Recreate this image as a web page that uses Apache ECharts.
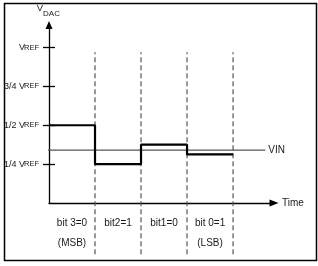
<!DOCTYPE html>
<html><head><meta charset="utf-8">
<script src="https://cdn.jsdelivr.net/npm/echarts@6/dist/echarts.min.js"></script>
<style>html,body{margin:0;padding:0;background:#fff}#c{width:318px;height:266px}</style>
</head><body><div id="c"></div>
<script>
// ---- data ----
const bitLabels = ['bit 3=0\n(MSB)', 'bit2=1', 'bit1=0', 'bit 0=1\n(LSB)'];
const bitCenters = [0.5, 1.5, 2.5, 3.5];
const stepX = [0, 1, 2, 3, 4];
const stepY = [0.5, 0.25, 0.375, 0.3125, 0.3125];
const dividerX = [1, 2, 3, 4];
const dividerSpan = [-0.33, 0.97];
const vinLevel = 0.34;
const vinSpan = [-0.2, 4.7];
const yTickValues = [0.25, 0.5, 0.75, 1];
const yTickPrefixes = ['1/4 ', '1/2 ', '3/4 ', ''];
const yTickMain = 'V';
const yTickSub = 'REF';
const yName = ['V', 'DAC'];
const xName = 'Time';
const vinName = 'VIN';

// ---- chart ----
const F = "'Liberation Sans','Arial',sans-serif";
const TXT = '#1a1a1a';
const chart = echarts.init(document.getElementById('c'), null, {renderer: 'canvas'});

const labelMap = {};
yTickValues.forEach((v, i) => labelMap[v] = yTickPrefixes[i]);
const bitMap = {};
bitCenters.forEach((v, i) => bitMap[v] = bitLabels[i]);

const series = [
  {
    type: 'line', step: 'end', symbol: 'none', z: 5,
    data: stepX.map((x, i) => [x, stepY[i]]),
    lineStyle: {color: '#000', width: 2.2}
  },
  {
    type: 'line', symbol: 'none', clip: false, z: 4,
    data: [[vinSpan[0], vinLevel], [vinSpan[1], vinLevel]],
    lineStyle: {color: '#555', width: 1.3},
    endLabel: {show: true, formatter: vinName, distance: 3, fontFamily: F, fontSize: 10, color: TXT}
  }
];
dividerX.forEach(x => series.push({
  type: 'line', symbol: 'none', clip: false, z: 3, silent: true,
  data: [[x, dividerSpan[0]], [x, dividerSpan[1]]],
  lineStyle: {color: '#555', width: 1.2, type: [5, 3]}
}));

const yBase = {
  type: 'value', min: 0, max: 1.145, position: 'left',
  splitLine: {show: false}
};
const tickStyle = {color: '#000', width: 1.3};

chart.setOption({
  animation: false,
  backgroundColor: '#fff',
  grid: {left: 49, right: 44, top: 25, bottom: 63, containLabel: false, outerBoundsMode: 'none'},
  xAxis: {
    type: 'value', min: 0, max: 4.89,
    name: xName, nameLocation: 'end', nameGap: 8,
    nameTextStyle: {fontFamily: F, fontSize: 10, color: TXT, verticalAlign: 'middle'},
    axisLine: {lineStyle: {color: '#000', width: 1.3}, symbol: ['none', 'triangle'], symbolSize: [7, 9]},
    axisTick: {show: false},
    splitLine: {show: false},
    axisLabel: {
      customValues: bitCenters, margin: 10,
      fontFamily: F, fontSize: 10, color: TXT, lineHeight: 20,
      formatter: v => bitMap[v] || ''
    }
  },
  yAxis: [
    // main part of labels ("1/4 V") and outward ticks
    Object.assign({}, yBase, {
      name: yName[0], nameLocation: 'end', nameGap: 12,
      nameTextStyle: {fontFamily: F, fontSize: 9.5, color: TXT, align: 'center', padding: [0, 18, 0, 0]},
      axisLine: {lineStyle: {color: '#000', width: 1.3}, symbol: ['none', 'triangle'], symbolSize: [7, 8]},
      axisTick: {show: true, customValues: yTickValues, length: 6, lineStyle: tickStyle},
      axisLabel: {
        customValues: yTickValues, margin: 24, padding: [0, 0, 7, 0],
        fontFamily: F, fontSize: 9, color: TXT,
        formatter: v => (labelMap[v] || '') + yTickMain
      }
    }),
    // subscript part ("REF") and inward ticks
    Object.assign({}, yBase, {
      name: yName[1], nameLocation: 'end', nameGap: 7,
      nameTextStyle: {fontFamily: F, fontSize: 8, color: TXT, align: 'center', padding: [0, 0, 0, 5]},
      axisLine: {show: false},
      axisTick: {show: true, inside: true, customValues: yTickValues, length: 6, lineStyle: tickStyle},
      axisLabel: {
        customValues: yTickValues, margin: 10, padding: [3, 0, 0, 0],
        fontFamily: F, fontSize: 7.5, color: TXT,
        formatter: () => yTickSub
      }
    })
  ],
  graphic: [
    {type: 'rect', left: 2, top: 1, shape: {width: 312, height: 257}, style: {fill: 'none', stroke: '#000', lineWidth: 1.5}, silent: true}
  ],
  series: series
});
</script>
</body></html>
